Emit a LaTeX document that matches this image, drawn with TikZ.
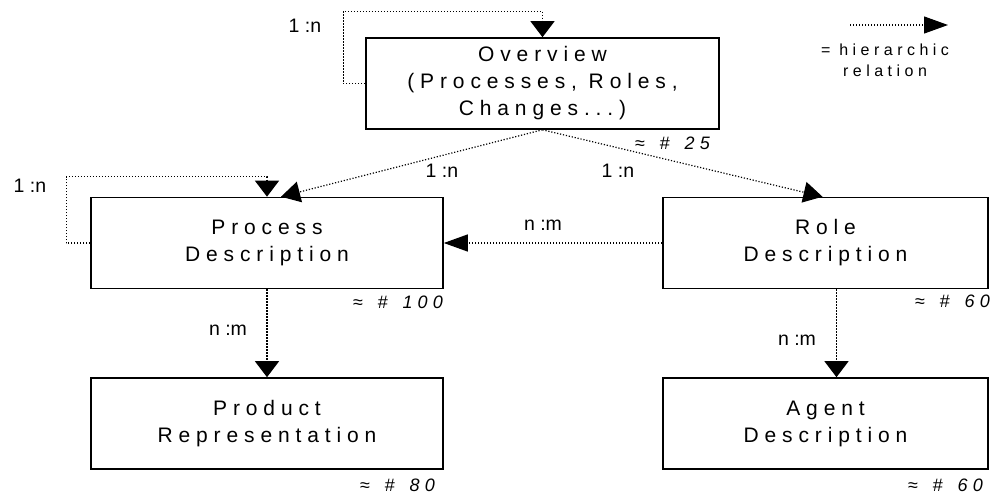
\documentclass[tikz,border=0pt]{standalone}
\usepackage{fontspec}
\setmainfont{Liberation Sans}
\newfontfamily\spacedfont[LetterSpace=28]{Liberation Sans}
\usetikzlibrary{calc,arrows.meta}
\newcommand{\approxcount}[1]{≈\hspace{15pt}\#\hspace{15pt}#1}
\tikzset{
  box/.style={draw, line width=1.6pt, align=center, inner sep=0pt,
    font=\spacedfont\fontsize{21}{27}\selectfont},
  lbox/.style={box, minimum width=352pt, minimum height=91pt},
  rbox/.style={box, minimum width=325pt, minimum height=91pt},
  dotline/.style={line width=1.2pt, dash pattern=on 1.2pt off 1.8pt},
  rel/.style={dotline, -{Triangle[length=16pt, width=24pt]}},
  relh/.style={dotline, -{Triangle[length=24pt, width=17pt]}},
  reld/.style={dotline, -{Triangle[length=19pt, width=21pt]}},
  card/.style={anchor=base, inner sep=0pt, font=\fontsize{19.5}{20}\selectfont},
  count/.style={anchor=base east, inner sep=0pt,
    font=\spacedfont\itshape\fontsize{18}{20}\selectfont},
  legend/.style={align=center, inner sep=0pt,
    font=\spacedfont\fontsize{16}{21}\selectfont}
}
\begin{document}
\begin{tikzpicture}[x=1pt, y=-1pt]
  \useasboundingbox (0,0) rectangle (993,493);

  \node[box, minimum width=353pt, minimum height=91pt] (ov) at (542.5,83.5)
    {Overview\\(Processes, Roles,\\Changes...)};
  \node[lbox] (proc) at (267,243) {Process\\Description};
  \node[rbox] (role) at (825.5,243) {Role\\Description};
  \node[lbox] (prod) at (267,423.5) {Product\\Representation};
  \node[rbox] (agent) at (825.5,423.5) {Agent\\Description};

  % self relations
  \draw[rel] (ov.west) -- ++(-22,0) |- ([yshift=26pt]ov.north) -- (ov.north);
  \draw[rel] (proc.west) -- ++(-24,0) |- ([yshift=20pt]proc.north) -- (proc.north);

  \draw[reld] (ov.south) -- ([xshift=14pt]proc.north);
  \draw[reld] (ov.south) -- ([xshift=-3pt]role.north);
  \draw[relh] (role.west) -- (proc.east);
  \draw[rel] (proc.south) -- (prod.north);
  \draw[rel] ([xshift=11pt]role.south) -- ([xshift=11pt]agent.north);

  \node[card] (c1) at (305,32) {1 :n};
  \node[card] (c2) at (30,192) {1 :n};
  \node[card] (c3) at (442,177) {1 :n};
  \node[card] (c4) at (618,177) {1 :n};
  \node[card] (c5) at (543,230) {n :m};
  \node[card] (c6) at (228,335) {n :m};
  \node[card] (c7) at (797,345) {n :m};

  \node[count] (n1) at (710,149) {\approxcount{25}};
  \node[count] (n2) at (443,308) {\approxcount{100}};
  \node[count] (n3) at (990,307) {\approxcount{60}};
  \node[count] (n4) at (435,491) {\approxcount{80}};
  \node[count] (n5) at (983,491) {\approxcount{60}};

  % legend
  \coordinate (lg1) at (850,25);
  \coordinate (lg2) at (948,25);
  \draw[relh] (lg1) -- (lg2);
  \node[legend] (lgt) at (885,60) {= hierarchic\\relation};
\end{tikzpicture}
\end{document}
